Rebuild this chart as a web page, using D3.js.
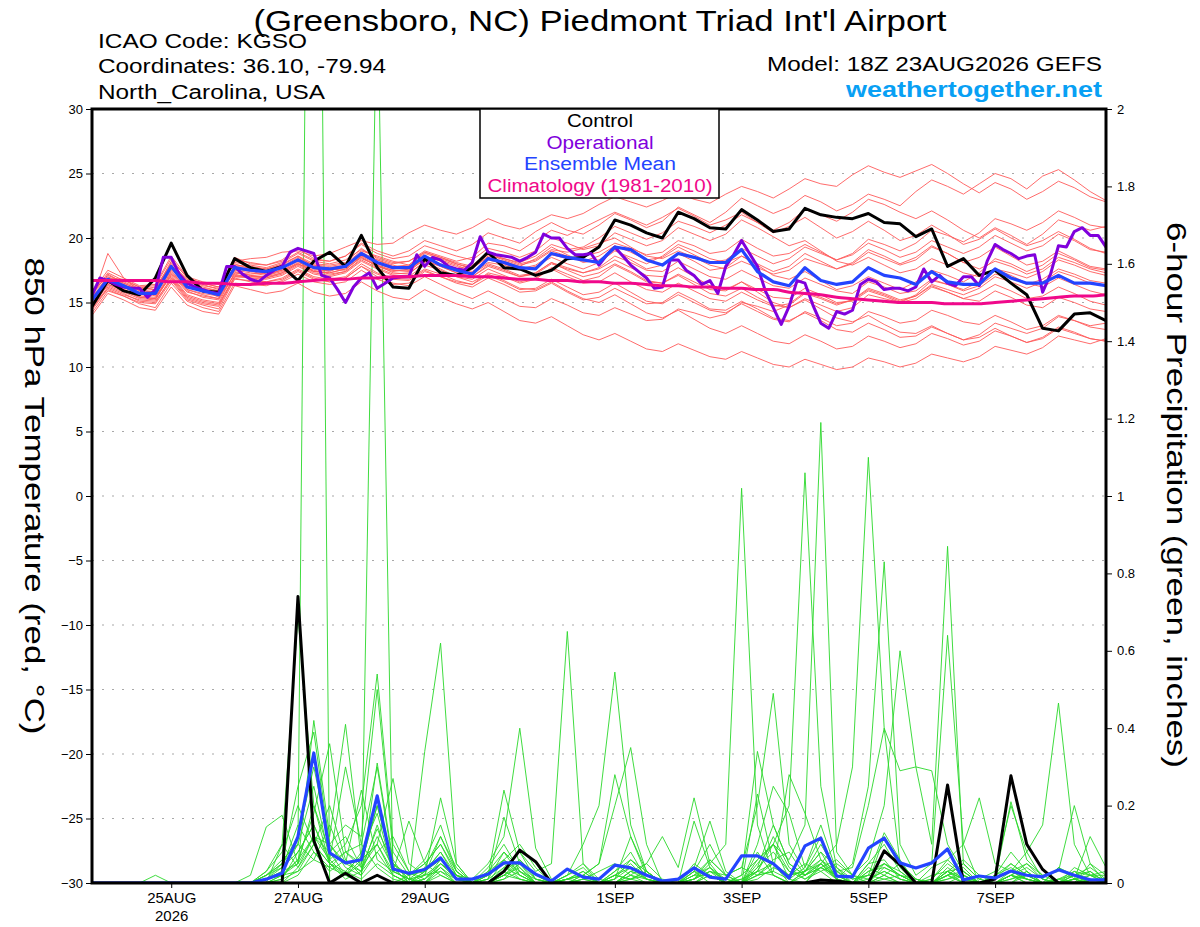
<!DOCTYPE html>
<html>
<head>
<meta charset="utf-8">
<script src="https://d3js.org/d3.v7.min.js"></script>
<style>
  body { margin: 0; background: #fff; }
  svg text { font-family: "Liberation Sans", Arial, Helvetica, sans-serif; }
</style>
</head>
<body>
<script>
/*
  GEFS meteogram data, 6-hourly from 18Z 23AUG2026 (65 steps),
  operational run 3-hourly (129 steps).
*/
var runStart = Date.UTC(2026, 7, 23, 18);

var tempTicks = [-30, -25, -20, -15, -10, -5, 0, 5, 10, 15, 20, 25, 30];
var precTicks = [0, 0.2, 0.4, 0.6, 0.8, 1, 1.2, 1.4, 1.6, 1.8, 2];
var dayTickDates = ["2026-08-25", "2026-08-27", "2026-08-29", "2026-09-01", "2026-09-03", "2026-09-05", "2026-09-07"];
var dayTickLabels = ["25AUG", "27AUG", "29AUG", "1SEP", "3SEP", "5SEP", "7SEP"];

var legendLabels = ["Control", "Operational", "Ensemble Mean", "Climatology (1981-2010)"];

// 850 hPa temperature (C)
var tempControl = [14.7, 16.7,15.9,15.6,16.9, 19.6,17.1,15.9,15.8, 18.4,17.7,17.4,17.8, 16.7,18.2,18.9,17.8,
  20.2,17.7,16.2,16.1, 18.4,17.3,17.1,17.7, 18.9,17.7,17.6,17.1, 17.5,18.4,18.5,19.3, 21.4,21.0,20.4,20.0,
  22.0,21.5,20.8,20.7, 22.2,21.4,20.5,20.7, 22.3,21.8,21.6,21.5, 21.9,21.2,21.1,20.1, 20.7,17.8,18.4,17.1,
  17.5,16.5,15.6,13.0, 12.8,14.1,14.2,13.6];

var tempMean = [15.2, 16.8,16.3,15.7,15.7, 17.8,16.2,15.9,15.6, 17.7,17.5,17.4,17.7, 18.3,17.7,17.6,17.8,
  18.8,18.1,17.7,17.7, 18.6,17.9,17.5,17.2, 18.4,18.1,17.7,17.6, 18.8,18.5,18.3,18.1, 19.3,19.1,18.3,17.9,
  18.8,18.5,18.1,18.1, 19.1,17.4,16.6,16.3, 17.7,16.7,16.4,16.6, 17.7,17.1,16.9,16.4, 17.4,16.6,16.4,16.4,
  17.6,16.9,16.5,16.5, 17.1,16.5,16.5,16.3];

var tempClimo = [16.7, 16.7,16.7,16.7,16.7, 16.6,16.6,16.5,16.5, 16.4,16.4,16.5,16.5, 16.6,16.7,16.8,16.8,
  16.9,16.9,17.0,17.0, 17.1,17.1,17.1,17.0, 17.0,16.9,16.8,16.8, 16.7,16.7,16.6,16.6, 16.5,16.5,16.4,16.3,
  16.3,16.2,16.2,16.1, 16.1,16.0,16.0,15.8, 15.7,15.6,15.4,15.3, 15.2,15.1,15.0,15.0, 15.0,14.9,14.9,14.9,
  15.0,15.1,15.2,15.3, 15.4,15.5,15.5,15.6];

// operational, 3-hourly
var tempOper = [15.6,16.9,16.7,16.4,16.2,16.1,16.1,15.4,16.0,18.5,18.5,17.2,16.5,16.2,16.0,15.8,
  15.7,17.8,17.8,17.2,16.8,16.6,17.1,17.5,17.8,18.9,19.2,19.0,18.8,17.1,16.9,16.0,
  15.0,16.2,16.9,17.3,16.1,16.5,16.9,17.0,17.0,18.7,17.8,18.5,18.3,17.8,17.6,17.5,
  18.1,20.1,18.9,18.7,18.6,18.5,18.2,18.5,18.9,20.3,20.0,20.0,19.2,18.7,18.7,18.8,
  17.9,18.7,19.3,18.6,17.9,17.4,16.9,16.1,16.2,18.3,18.3,17.5,17.1,16.4,16.7,15.7,
  17.8,18.7,19.8,18.8,17.8,15.9,14.6,13.3,14.7,16.7,16.5,14.8,13.4,13.0,14.3,14.1,
  14.4,16.4,16.8,16.6,16.0,16.1,16.1,15.9,16.2,17.6,16.6,17.1,16.5,16.3,17.0,17.0,
  16.3,18.2,19.5,19.1,18.8,18.4,18.6,18.7,15.8,17.2,19.4,19.3,20.5,20.8,20.2,20.2,
  19.3];

// 20 perturbed members
var tempMembers = [
  [15.0,17.2,16.5,16.0,16.2,18.0,16.8,16.5,16.2,18.2,18.4,18.5,18.9,19.0,18.6,18.8,19.3,19.8,19.5,19.6,20.4,21.0,
   20.6,20.3,20.8,21.5,21.0,20.7,21.2,21.8,21.5,21.9,22.6,23.2,22.8,22.4,22.9,23.5,23.0,22.7,23.4,24.0,23.6,23.1,
   23.8,24.6,24.2,24.0,24.9,25.6,25.1,24.7,25.2,25.7,25.0,24.2,23.5,24.3,23.8,23.0,23.6,24.4,23.9,23.2,22.8],
  [15.6,16.9,16.8,16.2,16.0,18.2,17.0,16.4,16.0,18.5,18.0,17.9,18.3,19.2,18.4,18.2,18.6,19.6,19.0,18.6,19.0,19.8,
   19.4,19.0,19.5,20.4,20.0,19.6,20.5,21.2,20.6,20.3,21.0,21.9,21.4,20.8,21.3,22.4,21.8,21.2,22.0,23.1,22.5,21.9,
   22.4,23.3,22.8,22.1,22.6,23.4,23.0,22.5,23.6,24.5,24.0,23.4,24.2,25.0,24.6,23.8,24.8,25.3,24.5,23.6,22.9],
  [14.6,16.4,16.0,15.5,15.4,17.4,16.0,15.6,15.3,17.9,17.8,17.6,18.0,18.6,18.0,17.9,18.1,19.2,18.4,18.0,18.2,19.0,
   18.6,18.2,18.5,19.6,19.4,19.0,19.8,20.6,20.2,20.8,21.4,22.0,21.5,21.0,21.6,22.3,21.7,21.0,21.4,22.0,21.2,20.4,
   20.9,21.6,20.8,20.0,20.5,21.3,20.6,19.8,20.2,21.0,20.3,19.5,19.9,20.7,20.0,19.4,19.8,20.5,19.9,19.2,18.8],
  [15.8,17.5,16.9,16.3,16.4,18.6,17.0,16.6,16.4,18.0,17.6,17.2,17.5,18.0,17.4,17.3,17.6,18.5,17.8,17.4,17.6,18.4,
   18.0,17.6,17.9,18.8,18.4,18.1,18.6,19.5,19.1,19.3,20.0,20.9,20.4,19.9,20.4,21.3,20.9,20.4,21.0,21.8,21.2,20.6,
   21.2,22.2,21.8,21.3,22.0,23.0,22.6,22.0,21.5,22.1,21.4,20.6,20.0,20.8,20.2,19.5,20.3,21.4,21.0,20.6,20.9],
  [15.4,16.6,16.1,15.8,15.9,17.6,16.4,16.1,15.9,17.3,17.2,17.3,17.8,18.5,17.9,17.6,17.5,18.6,18.3,17.9,17.5,18.5,
   18.3,17.9,17.4,18.3,18.0,17.6,17.9,18.7,18.4,18.6,18.9,19.6,19.2,18.7,18.9,19.8,19.4,18.8,19.0,19.9,19.2,18.6,
   18.8,19.5,18.9,18.3,18.7,19.6,19.1,18.5,18.9,19.8,19.3,18.8,19.3,20.2,19.6,19.0,19.4,20.3,19.8,19.1,18.9],
  [14.9,16.3,15.8,15.3,15.2,17.2,15.8,15.5,15.3,17.5,17.3,17.1,17.4,18.1,17.6,17.4,17.9,18.9,18.3,17.8,17.9,18.9,
   18.5,18.0,17.6,18.6,18.4,18.0,18.3,19.1,18.9,19.2,19.6,20.0,19.3,18.6,18.4,19.0,18.5,17.9,17.6,18.2,17.7,17.2,
   17.5,18.4,18.0,17.6,18.0,18.9,18.4,17.9,18.3,19.3,18.8,18.1,17.6,18.2,17.8,17.2,17.6,18.5,18.1,17.6,17.3],
  [15.9,17.0,16.4,15.9,15.6,17.9,16.5,16.0,15.4,17.1,17.0,16.9,17.3,18.0,17.5,17.2,17.4,18.4,17.9,17.3,17.2,18.2,
   17.8,17.3,17.0,17.9,17.5,17.0,17.2,18.0,17.6,17.3,17.7,18.6,18.1,17.5,17.4,18.2,17.6,17.0,16.8,17.5,16.9,16.3,
   16.1,16.9,16.4,15.9,15.7,16.6,16.2,15.7,15.9,16.8,16.4,15.9,16.3,17.2,16.9,16.4,16.8,17.6,17.2,16.7,16.5],
  [15.3,16.8,16.5,16.0,15.8,17.7,16.3,15.8,15.7,17.8,17.7,17.6,17.9,18.6,17.8,17.7,17.9,18.7,18.0,17.6,17.8,18.6,
   18.2,17.8,17.3,18.1,17.9,17.5,17.8,18.5,18.0,17.6,18.1,19.0,18.5,18.0,18.6,19.5,19.0,18.4,18.1,18.6,17.9,17.1,
   16.8,17.4,16.7,16.0,16.3,17.0,16.5,16.0,16.6,17.5,17.1,16.6,17.3,18.4,18.0,17.4,17.9,18.8,18.3,17.7,17.5],
  [15.1,16.5,16.2,15.6,15.6,17.5,16.0,15.7,15.5,17.6,17.4,17.2,17.5,18.2,17.4,17.5,17.7,18.6,17.9,17.5,17.4,18.4,
   17.9,17.5,17.2,18.0,17.6,17.1,17.3,18.1,17.5,17.0,17.3,18.0,17.4,16.7,16.5,17.2,16.6,16.0,15.9,16.6,16.0,15.4,
   15.3,16.1,15.6,15.0,15.1,15.9,15.5,15.0,15.3,16.2,15.8,15.3,15.7,16.4,15.9,15.3,15.5,16.2,15.7,15.1,14.8],
  [15.7,17.1,16.6,16.1,16.0,17.9,16.6,16.2,15.9,18.1,17.9,17.7,18.1,18.8,18.2,18.0,18.3,19.1,18.5,18.1,18.2,18.9,
   18.5,18.1,17.8,18.7,18.3,17.9,18.2,19.0,18.6,18.2,18.6,19.4,18.9,18.3,18.5,19.3,18.7,18.1,18.3,19.2,18.6,18.0,
   18.4,19.3,18.8,18.3,18.8,19.9,19.5,19.0,19.6,20.6,20.2,19.7,20.4,21.5,21.1,20.6,21.2,22.1,21.6,21.0,20.8],
  [14.5,16.2,15.7,15.1,15.0,16.9,15.4,15.0,14.8,17.0,16.9,16.8,17.1,17.8,17.2,17.0,17.3,18.2,17.6,17.1,17.0,17.9,
   17.5,17.0,16.8,17.6,17.1,16.6,16.9,17.6,17.0,16.5,16.6,17.3,16.6,16.0,15.8,16.5,15.9,15.3,15.1,15.8,15.2,14.7,
   14.9,15.8,15.4,14.9,15.2,16.1,15.7,15.2,15.5,16.3,15.8,15.3,15.1,15.9,15.4,14.8,14.6,15.4,15.0,14.5,14.3],
  [16.0,16.9,16.2,15.6,15.9,18.1,16.7,16.3,16.1,17.4,17.1,17.0,17.6,18.4,17.9,17.8,18.0,19.0,18.6,18.2,17.9,18.8,
   18.4,18.0,17.7,18.5,18.2,17.8,18.4,19.3,18.7,18.1,18.3,19.1,18.3,17.6,17.9,18.8,18.2,17.5,17.7,18.6,18.0,17.4,
   17.8,18.8,18.2,17.6,18.1,19.1,18.6,18.0,18.5,19.4,18.8,18.1,18.5,19.3,18.6,17.9,18.2,19.0,18.4,17.8,17.6],
  [14.8,16.0,15.5,15.0,14.9,16.7,15.2,14.8,14.5,16.8,16.7,16.6,16.9,17.6,17.0,16.8,17.0,18.0,17.3,16.9,16.8,17.6,
   17.2,16.7,16.4,17.1,16.6,16.0,16.1,16.8,16.2,15.6,15.8,16.5,15.8,15.1,14.9,15.6,15.0,14.4,14.2,14.9,14.3,13.7,
   13.5,14.3,13.8,13.2,13.4,14.3,13.9,13.4,13.6,14.4,14.0,13.5,13.3,14.0,13.5,12.9,13.2,14.0,13.6,13.1,12.9],
  [15.5,16.7,16.0,15.4,15.3,17.3,15.9,15.4,15.2,17.2,16.9,16.6,16.8,17.5,16.9,16.6,16.9,17.8,17.0,16.5,16.3,17.0,
   16.4,15.8,15.3,15.9,15.3,14.7,14.6,15.3,14.8,14.2,14.0,14.6,14.1,13.6,13.7,14.5,14.2,13.8,14.1,15.0,14.7,14.3,
   14.8,15.7,15.3,14.8,15.2,16.0,15.6,15.1,15.5,16.4,16.0,15.6,16.1,17.0,16.6,16.1,16.6,17.4,17.0,16.5,16.3],
  [15.0,16.4,15.9,15.4,15.3,17.1,15.6,15.2,15.0,17.3,17.1,16.9,17.2,17.9,17.3,17.1,17.4,18.3,17.7,17.2,17.3,18.1,
   17.6,17.0,16.6,17.2,16.7,16.1,16.0,16.6,15.9,15.3,15.0,15.6,14.9,14.2,13.8,14.4,13.7,13.0,12.6,13.2,12.6,12.0,
   11.8,12.5,12.0,11.4,11.6,12.4,12.0,11.5,11.8,12.6,12.2,11.7,12.0,12.8,12.4,11.9,12.3,13.1,12.7,12.2,12.0],
  [14.2,15.9,15.5,14.9,14.6,16.5,15.1,14.6,14.3,16.5,16.4,16.3,16.7,17.4,16.8,16.6,16.9,17.8,17.2,16.8,16.7,17.5,
   17.0,16.5,16.2,16.9,16.4,15.8,15.9,16.5,15.8,15.2,15.4,16.1,15.5,14.9,15.0,15.8,15.2,14.5,14.4,15.1,14.5,13.8,
   13.6,14.2,13.6,12.9,12.7,13.4,12.9,12.3,12.4,13.1,12.6,12.1,12.5,13.4,13.0,12.6,13.0,13.9,13.6,13.2,13.4],
  [14.0,15.7,15.2,14.6,14.4,16.2,14.8,14.3,14.1,16.3,16.0,15.7,15.9,16.5,15.8,15.5,15.7,16.6,15.9,15.4,15.2,16.0,
   15.4,14.9,14.5,15.0,14.3,13.6,13.4,13.9,13.2,12.5,12.1,12.6,12.0,11.4,11.2,11.8,11.3,10.8,10.6,11.2,10.7,10.2,
   10.0,10.6,10.2,9.8,10.0,10.7,10.4,10.0,10.3,11.0,10.7,10.4,10.8,11.6,11.3,11.0,11.5,12.4,12.1,11.8,12.2],
  [15.2,18.8,16.9,15.9,15.5,17.0,15.5,15.1,14.9,17.0,17.0,17.0,17.3,18.0,17.4,17.3,17.6,18.5,17.8,17.5,17.5,18.3,
   17.8,17.3,17.0,17.8,17.4,17.0,17.3,18.1,17.7,17.3,17.6,18.3,17.7,17.1,17.0,17.7,17.0,16.3,16.0,16.6,15.8,15.0,
   14.6,15.2,14.5,13.8,13.5,14.0,13.3,12.7,12.6,13.2,12.6,12.1,12.3,13.0,12.4,11.9,12.2,13.0,12.6,12.2,12.0],
  [15.6,17.3,16.7,16.2,16.3,18.4,16.9,16.5,16.2,18.3,18.1,17.9,18.2,18.9,18.3,18.2,18.6,19.5,18.8,18.4,18.6,19.4,
   19.0,18.6,18.3,19.2,18.9,18.5,19.0,20.0,19.6,19.1,19.4,20.4,19.9,19.4,19.8,20.8,20.3,19.8,20.3,21.4,20.8,20.1,
   19.4,19.8,19.0,18.2,17.9,18.5,17.9,17.3,17.6,18.4,17.9,17.3,17.0,17.6,17.1,16.5,16.2,16.9,16.4,15.9,15.6],
  [14.4,16.1,15.6,15.2,15.1,16.8,15.3,14.9,14.7,16.9,16.6,16.4,16.6,17.2,16.6,16.4,16.6,17.5,16.8,16.4,16.5,17.4,
   17.0,16.6,16.4,17.3,17.0,16.5,16.8,17.7,17.2,16.7,17.0,17.9,17.3,16.6,16.5,17.1,16.4,15.7,15.5,16.1,15.4,14.8,
   14.6,15.3,14.8,14.3,14.6,15.6,15.3,15.0,15.6,16.7,16.4,16.0,16.6,17.6,17.3,16.9,17.4,18.3,17.9,17.4,17.1]
];

// 6-hour precipitation (inches)
var precControl = [0, 0,0,0,0, 0,0,0,0, 0,0,0,0, 0.74,0.11,0,0.025, 0,0.02,0,0, 0,0,0,0,
  0,0.03,0.085,0.055, 0,0,0,0, 0,0,0,0, 0,0,0,0, 0,0,0,0, 0,0.008,0.005,0, 0,0.083,0.047,0,
  0,0.253,0,0, 0.01,0.277,0.10,0.035, 0,0,0,0];

var precMean = [0, 0,0,0,0, 0,0,0,0, 0,0,0.01,0.025, 0.12,0.336,0.078,0.052, 0.06,0.225,0.036,0.025,
  0.035,0.065,0.01,0.01, 0.023,0.052,0.052,0.023, 0.005,0.036,0.015,0.01, 0.046,0.039,0.02,0.005,
  0.01,0.039,0.015,0.01, 0.07,0.07,0.05,0.013, 0.096,0.116,0.018,0.016, 0.09,0.116,0.052,0.039,
  0.052,0.088,0.008,0.018, 0.013,0.031,0.02,0.016, 0.034,0.02,0.008,0.008];

var precMembers = [
  [0, 0,0,0,0, 0,0,0,0, 0,0,0.02,0.06, 0.10,4.5,0,0.03, 0.01,0.05,0.02,0, 0.01,0.04,0,0, 0.02,0.05,0.01,0, 0,0,0,0, 0.03,0.08,0.01,0, 0,0,0,0, 0.02,0.06,0.10,0.01, 0.04,0.12,0.02,0, 0.05,0.06,0.01,0, 0,0.03,0,0, 0,0.02,0,0, 0.04,0.01,0,0],
  [0, 0,0,0,0, 0,0,0,0, 0,0,0.01,0.03, 0.05,0.12,0.08,0.02, 0,2.35,0,0.02, 0.05,0.02,0,0, 0,0.03,0.06,0.02, 0,0,0.01,0, 0,0.02,0,0, 0,0.03,0,0, 0,0.02,0.05,0, 0.03,0.08,0.01,0, 0,0.04,0.02,0.01, 0,0.02,0.05,0.01, 0,0,0.03,0, 0.01,0,0,0],
  [0, 0,0,0,0, 0,0,0,0, 0,0,0.03,0.1, 0.69,0.2,0.05,0.01, 0.03,0.08,0.02,0, 0.34,0.62,0.05,0, 0,0.02,0.04,0, 0,0,0,0, 0,0.02,0.01,0, 0,0.01,0.04,0, 0.01,0.03,0.02,0, 0,0.05,0.02,0, 0.03,0.05,0.02,0, 0,0.04,0.01,0, 0.02,0.05,0.02,0, 0,0.01,0.03,0],
  [0, 0,0,0,0, 0,0,0,0, 0,0.02,0.145,0.175, 0.05,0.42,0.12,0.41, 0.06,0.1,0.03,0.01, 0,0.03,0.01,0, 0.04,0.1,0.03,0, 0,0,0,0, 0.02,0.01,0,0, 0,0,0.02,0, 0,0.01,0.04,0.02, 0.05,0.03,0,0, 0.02,0.01,0,0, 0,0.01,0.03,0, 0.01,0.03,0.01,0, 0,0,0.05,0.02],
  [0, 0,0,0,0, 0,0,0,0, 0,0,0.01,0.04, 0.08,0.15,0.06,0.1, 0.2,0.54,0.1,0.03, 0,0.05,0.02,0, 0,0.04,0.08,0.03, 0.05,0.65,0.05,0, 0,0.01,0.03,0, 0,0,0,0, 0,0.02,0.03,0.01, 0,0.04,0.06,0.02, 0.01,0.03,0.01,0, 0,0,0.02,0, 0,0.02,0.04,0.01, 0,0.03,0,0],
  [0, 0,0,0,0, 0,0,0,0, 0,0,0.02,0.05, 0.25,0.39,0.1,0.15, 0.12,0.5,0.08,0.02, 0.03,0.08,0.02,0, 0,0.01,0.05,0.02, 0,0.02,0.1,0.2, 0.545,0.15,0.03,0, 0,0.01,0.03,0, 0,0.04,0.08,0.03, 0.02,0.05,0.01,0, 0,0.02,0,0, 0.01,0.05,0.02,0, 0,0.01,0.02,0, 0.04,0.02,0,0],
  [0, 0,0,0,0, 0,0,0,0, 0,0,0,0.02, 0.06,0.18,0.36,0.08, 0.04,0.1,0.27,0.05, 0.02,0.12,0.03,0, 0,0.03,0.01,0, 0,0.01,0.02,0, 0.02,0.04,0.01,0, 0,0.01,0.05,0.1, 1.02,0.15,0.02,0, 0.03,0.06,0.02,0, 0.04,0.02,0,0, 0,0.03,0.06,0.02, 0,0,0.02,0, 0,0.01,0.02,0],
  [0, 0,0,0,0, 0,0,0,0, 0,0,0.01,0.03, 0.1,0.06,0.15,0.05, 0.24,0.06,0.03,0.16, 0.05,0.1,0.02,0.01, 0.05,0.12,0.40,0.09, 0.01,0,0,0, 0,0.03,0.02,0, 0,0.02,0.06,0.02, 0.04,0.2,0.49,0.1, 0.03,0.05,0.01,0, 0,0.01,0.02,0, 0,0.02,0.03,0, 0.02,0.04,0.01,0, 0,0.02,0.01,0],
  [0, 0,0,0,0, 0,0,0,0, 0,0,0,0.1, 0.04,0.12,0.06,0.3, 0.1,0.04,0.01,0, 0.02,0.22,0.05,0, 0,0.02,0.06,0.01, 0,0,0.02,0.05, 0.2,0.35,0.1,0, 0,0,0.03,0.01, 0,0.05,0.1,0.2, 1.06,0.25,0.04,0, 0,0.02,0.05,0.01, 0,0.02,0,0, 0,0.01,0.03,0, 0,0,0.02,0],
  [0, 0,0,0,0, 0,0,0,0, 0,0,0.02,0.04, 0.15,0.08,0.03,0.06, 0.02,0.31,0.06,0, 0.01,0.05,0.02,0, 0,0.06,0.1,0.04, 0,0,0.01,0.03, 0.05,0.02,0.05,0.12, 0.04,0.22,0.05,0, 0,0.03,0.1,0.06, 0.15,1.19,0.08,0.02, 0,0.05,0.03,0, 0.02,0.03,0.01,0, 0,0.02,0,0, 0.01,0.02,0,0],
  [0, 0,0,0,0, 0,0,0,0, 0,0,0,0.01, 0.03,0.1,0.2,0.06, 0.03,0.12,0.04,0.02, 0.06,0.15,0.03,0, 0.02,0.06,0.03,0.01, 0,0.02,0.04,0, 0.01,0.06,0.03,0, 0,0.04,0.16,0.03, 0,0.02,0.06,0.08, 0.02,0.05,0.1,0.3, 1.10,0.4,0.05,0.01, 0,0.02,0,0, 0.01,0.03,0.05,0.02, 0,0.01,0,0],
  [0, 0,0,0,0, 0,0,0,0, 0,0,0,0, 0.02,0.08,0.04,0.02, 0.05,0.2,0.05,0.01, 0,0.04,0.01,0, 0.03,0.08,0.04,0, 0,0.01,0.03,0, 0.02,0.05,0.01,0, 0,0.03,0.02,0, 0.02,0.34,0.15,0.05, 0.02,0.04,0.01,0.05, 0.25,0.83,0.1,0.02, 0.05,0.64,0.1,0, 0,0.03,0.01,0, 0,0.01,0,0],
  [0, 0,0,0,0, 0,0,0,0, 0,0,0.01,0.02, 0.06,0.12,0.1,0.05, 0.03,0.15,0.03,0.01, 0.02,0.03,0,0, 0,0.01,0.03,0, 0,0,0.01,0, 0.03,0.06,0.02,0, 0,0.02,0.04,0.01, 0,0.06,0.1,0.03, 0.01,0.03,0.05,0.02, 0.06,0.2,0.60,0.3, 0.1,0.87,0.05,0.01, 0,0.02,0.05,0.01, 0,0.02,0.03,0],
  [0, 0,0,0,0, 0,0,0,0, 0,0,0,0, 0.04,0.1,0.05,0.02, 0.06,0.1,0.02,0, 0.03,0.08,0.01,0, 0,0.02,0.05,0.01, 0,0.01,0.02,0, 0,0.03,0.01,0, 0,0.01,0.03,0.02, 0.04,0.02,0.03,0.28, 0.18,0.06,0.03,0.04, 0.2,0.40,0.29,0.30, 0.29,0.1,0.03,0, 0.01,0.21,0.06,0.02, 0.03,0.2,0.05,0],
  [0, 0,0,0,0, 0,0,0,0, 0,0,0,0.02, 0.03,0.06,0.04,0.08, 0.05,0.2,0.04,0, 0,0.02,0,0, 0.01,0.04,0.02,0, 0,0.02,0.05,0.01, 0,0.03,0.05,0.01, 0,0,0.02,0, 0,0.03,0.05,0.02, 0.03,0.08,0.04,0.01, 0.02,0.05,0.02,0, 0.04,0.06,0.1,0.22, 0.05,0.03,0.08,0.15, 0.465,0.1,0.02,0.03],
  [0, 0,0,0,0.02, 0,0,0,0, 0,0,0.01,0.05, 0.12,0.3,0.1,0.04, 0.02,0.08,0.12,0.03, 0.01,0.06,0.02,0, 0.03,0.06,0.02,0, 0,0.01,0.02,0, 0.01,0.04,0.02,0, 0,0.16,0.04,0, 0,0.23,0.05,0.02, 0.03,0.1,0.03,0, 0.01,0.03,0.01,0, 0,0.02,0.05,0.01, 0.03,0.2,0.08,0.01, 0,0.04,0.02,0.01],
  [0, 0,0,0,0, 0,0,0,0, 0,0,0.03,0.08, 0.2,0.1,0.05,0.08, 0.1,0.3,0.05,0.02, 0.05,0.1,0.03,0, 0.02,0.24,0.08,0.01, 0,0.01,0,0, 0.02,0.01,0.02,0, 0,0.05,0.02,0, 0,0.08,0.02,0, 0.02,0.04,0.02,0, 0.05,0.1,0.03,0, 0,0.03,0.04,0, 0.02,0.08,0.03,0, 0,0.02,0.04,0.01],
  [0, 0,0,0,0, 0,0,0,0, 0,0,0,0.01, 0.08,0.15,0.05,0.03, 0.07,0.22,0.04,0, 0.03,0.06,0.02,0, 0.01,0.17,0.05,0, 0,0,0.02,0.05, 0.28,0.12,0.02,0, 0,0.03,0.1,0.02, 0,0.04,0.15,0.05, 0.02,0.06,0.01,0, 0.03,0.04,0.02,0, 0,0.01,0.02,0, 0.01,0.05,0.02,0, 0,0,0.01,0],
  [0, 0,0,0,0, 0,0,0,0, 0,0,0.01,0.02, 0.05,0.2,0.08,0.12, 0.04,0.14,0.05,0.01, 0.02,0.05,0.01,0, 0,0.02,0.01,0, 0,0,0,0, 0,0.01,0.03,0, 0,0.01,0.06,0.02, 0,0.1,0.25,0.18, 0.04,0.15,0.03,0.01, 0.02,0.13,0.06,0, 0.01,0.06,0.02,0, 0,0.02,0.01,0, 0,0.01,0.12,0.04],
  [0, 0,0,0,0, 0,0,0,0, 0,0,0.02,0.05, 0.1,0.25,0.06,0.02, 0.08,0.18,0.03,0.01, 0.04,0.12,0.04,0, 0.01,0.08,0.02,0, 0,0.01,0.03,0, 0.01,0.12,0.03,0, 0,0.02,0.02,0, 0.01,0.03,0.12,0.04, 0.01,0.04,0.02,0, 0,0.12,0.04,0, 0,0.03,0.01,0, 0,0.02,0.01,0, 0.01,0.03,0.02,0.02]
];

/*
  D3 setup
*/
var W = 1200, H = 927;
var plotL = 92, plotR = 1106, plotT = 109, plotB = 883;
var HOUR = 3600 * 1000;

var times6 = tempControl.map(function(d, i) { return new Date(runStart + i * 6 * HOUR); });
var times3 = tempOper.map(function(d, i) { return new Date(runStart + i * 3 * HOUR); });

var x = d3.scaleUtc()
  .domain([times6[0], times6[times6.length - 1]])
  .range([plotL, plotR]);
var yT = d3.scaleLinear().domain([-30, 30]).range([plotB, plotT]);
var yP = d3.scaleLinear().domain([0, 2]).range([plotB, plotT]);

var svg = d3.select("body").append("svg")
  .attr("width", W)
  .attr("height", H);

svg.append("defs").append("clipPath").attr("id", "plotclip")
  .append("rect")
    .attr("x", plotL).attr("y", plotT)
    .attr("width", plotR - plotL).attr("height", plotB - plotT);

var plot = svg.append("g").attr("clip-path", "url(#plotclip)");

// dotted temperature grid
plot.selectAll("line.grid")
  .data(tempTicks.filter(function(t) { return t > -30 && t < 30; }))
  .enter().append("line")
    .attr("class", "grid")
    .attr("x1", plotL).attr("x2", plotR)
    .attr("y1", function(d) { return yT(d); })
    .attr("y2", function(d) { return yT(d); })
    .attr("stroke", "#a8a8a8")
    .attr("stroke-width", 1.2)
    .attr("stroke-dasharray", "2,8");

var line6T = d3.line()
  .x(function(d, i) { return x(times6[i]); })
  .y(function(d) { return yT(d); });
var line3T = d3.line()
  .x(function(d, i) { return x(times3[i]); })
  .y(function(d) { return yT(d); });
var line6P = d3.line()
  .x(function(d, i) { return x(times6[i]); })
  .y(function(d) { return yP(d); });

function drawLine(data, gen, color, width) {
  plot.append("path")
    .datum(data)
    .attr("d", gen)
    .attr("fill", "none")
    .attr("stroke", color)
    .attr("stroke-width", width)
    .attr("stroke-linejoin", "round")
    .attr("stroke-linecap", "round");
}

precMembers.forEach(function(m) { drawLine(m, line6P, "#2ad82a", 0.9); });
tempMembers.forEach(function(m) { drawLine(m, line6T, "#ff5a5a", 0.9); });

drawLine(precControl, line6P, "#000000", 3);
drawLine(precMean, line6P, "#2444ff", 3.2);

drawLine(tempControl, line6T, "#000000", 3);
drawLine(tempOper, line3T, "#8000dc", 3);
drawLine(tempMean, line6T, "#2444ff", 3.2);
drawLine(tempClimo, d3.line()
  .x(function(d, i) { return x(times6[i]); })
  .y(function(d) { return yT(d); })
  .curve(d3.curveMonotoneX), "#f0088a", 3);

/*
  Axes
*/
var font = "'Liberation Sans', Arial, Helvetica, sans-serif";

var gLeft = svg.append("g")
  .attr("transform", "translate(" + plotL + ",0)")
  .call(d3.axisLeft(yT).tickValues(tempTicks).tickSize(6).tickPadding(3));
var gRight = svg.append("g")
  .attr("transform", "translate(" + plotR + ",0)")
  .call(d3.axisRight(yP).tickValues(precTicks).tickSize(6).tickPadding(5)
    .tickFormat(function(d) { return d3.format("~g")(d); }));
var gBottom = svg.append("g")
  .attr("transform", "translate(0," + plotB + ")")
  .call(d3.axisBottom(x)
    .tickValues(dayTickDates.map(function(s) { return new Date(s + "T00:00:00Z"); }))
    .tickSize(5).tickPadding(4)
    .tickFormat(function(d, i) { return dayTickLabels[i]; }));

[gLeft, gRight, gBottom].forEach(function(g) {
  g.attr("font-family", font).attr("font-size", 13);
  g.select(".domain").remove();
  g.selectAll(".tick line").attr("stroke", "#000").attr("stroke-width", 1);
  g.selectAll(".tick text").attr("fill", "#000");
});
gBottom.attr("font-size", 15);
gBottom.selectAll(".tick text").filter(function(d, i) { return i === 0; })
  .append("tspan").attr("x", 0).attr("dy", "1.2em").text("2026");

// plot frame
svg.append("rect")
  .attr("x", plotL).attr("y", plotT)
  .attr("width", plotR - plotL).attr("height", plotB - plotT)
  .attr("fill", "none")
  .attr("stroke", "#000")
  .attr("stroke-width", 3);

/*
  Legend box
*/
var legendColors = ["#000000", "#8000dc", "#2444ff", "#f0088a"];
var legendWidths = [66, 107, 152, 225];
var legendBase = [127, 149, 170, 192];

svg.append("rect")
  .attr("x", 480).attr("y", plotT)
  .attr("width", 239).attr("height", 89)
  .attr("fill", "#fff")
  .attr("stroke", "#000")
  .attr("stroke-width", 1.5);

svg.selectAll("text.legend")
  .data(legendLabels)
  .enter().append("text")
    .attr("class", "legend")
    .attr("x", 600)
    .attr("y", function(d, i) { return legendBase[i]; })
    .attr("text-anchor", "middle")
    .attr("font-size", 18)
    .attr("fill", function(d, i) { return legendColors[i]; })
    .attr("textLength", function(d, i) { return legendWidths[i]; })
    .attr("lengthAdjust", "spacingAndGlyphs")
    .text(function(d) { return d; });

/*
  Titles and labels
*/
function label(txt, x0, y0, size, anchor, len, opts) {
  opts = opts || {};
  var t = svg.append("text")
    .attr("x", x0).attr("y", y0)
    .attr("font-size", size)
    .attr("text-anchor", anchor)
    .attr("fill", opts.color || "#000")
    .attr("font-weight", opts.weight || "normal")
    .attr("textLength", len)
    .attr("lengthAdjust", "spacingAndGlyphs")
    .text(txt);
  if (opts.rotate) t.attr("transform", "rotate(90," + x0 + "," + y0 + ")");
  return t;
}

label("(Greensboro, NC) Piedmont Triad Int'l Airport", 600, 31, 30, "middle", 693);
label("ICAO Code: KGSO", 98, 48, 20, "start", 209);
label("Coordinates: 36.10, -79.94", 98, 73, 20, "start", 288);
label("North_Carolina, USA", 98, 99, 20, "start", 227);
label("Model: 18Z 23AUG2026 GEFS", 1102, 71, 20, "end", 335);
label("weathertogether.net", 1102, 97, 22, "end", 256, { color: "#08a0f4", weight: "bold" });

label("850 hPa Temperature (red, \u00B0C)", 25, 496, 28, "middle", 477, { rotate: true });
label("6-hour Precipitation (green, inches)", 1167, 495, 28, "middle", 546, { rotate: true });
</script>
</body>
</html>
